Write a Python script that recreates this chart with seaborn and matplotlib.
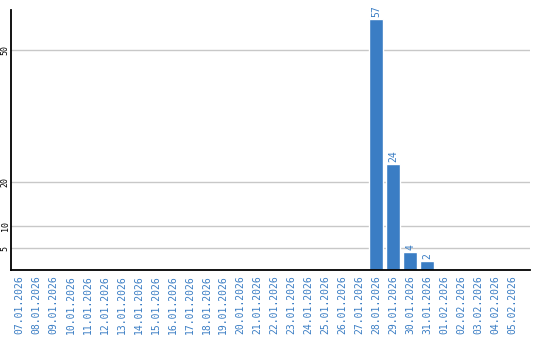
import matplotlib
matplotlib.use("Agg")
import matplotlib.pyplot as plt
import seaborn as sns
import pandas as pd

dates = ["07.01.2026", "08.01.2026", "09.01.2026", "10.01.2026", "11.01.2026",
         "12.01.2026", "13.01.2026", "14.01.2026", "15.01.2026", "16.01.2026",
         "17.01.2026", "18.01.2026", "19.01.2026", "20.01.2026", "21.01.2026",
         "22.01.2026", "23.01.2026", "24.01.2026", "25.01.2026", "26.01.2026",
         "27.01.2026", "28.01.2026", "29.01.2026", "30.01.2026", "31.01.2026",
         "01.02.2026", "02.02.2026", "03.02.2026", "04.02.2026", "05.02.2026"]
values = [0, 0, 0, 0, 0, 0, 0, 0, 0, 0,
          0, 0, 0, 0, 0, 0, 0, 0, 0, 0,
          0, 57, 24, 4, 2, 0, 0, 0, 0, 0]
yticks = [5, 10, 20, 50]

df = pd.DataFrame({"date": dates, "value": values})

sns.set_theme(style="white")
plt.rcParams['font.family'] = ['DejaVu Sans Mono', 'DejaVu Sans']

fig = plt.figure(figsize=(5.4, 3.4), dpi=100)
ax = fig.add_axes([11/540, 70/340, 519/540, 260/340])

blue = "#3a7dc4"
sns.barplot(data=df, x="date", y="value", color=blue, width=0.82,
            saturation=1, ax=ax, zorder=3)

for i, v in enumerate(values):
    if v > 0:
        ax.annotate(str(v), (i, v), xytext=(0, 1.5), textcoords="offset points",
                    rotation=90, ha="center", va="bottom",
                    color=blue, fontsize=7)

ax.set_xlim(-0.5, 30.05)
ax.set_ylim(0, 59.1)
ax.set_yticks(yticks)
ax.set_yticklabels([str(t) for t in yticks], rotation=90, va="center",
                   fontsize=6, color="black")
ax.tick_params(axis="y", length=0, pad=1)
ax.tick_params(axis="x", length=0, pad=4)
ax.set_xticks(range(len(dates)))
ax.set_xticklabels(dates, rotation=90, fontsize=7, color=blue)
ax.set_xlabel("")
ax.set_ylabel("")
ax.yaxis.grid(True, color="#c8c8c8", linewidth=1, zorder=0)
ax.xaxis.grid(False)
for s in ["top", "right"]:
    ax.spines[s].set_visible(False)
for s in ["left", "bottom"]:
    ax.spines[s].set_color("black")
    ax.spines[s].set_linewidth(1.3)
ax.spines["left"].set_zorder(5)
ax.spines["bottom"].set_zorder(5)

fig.savefig("out.png", dpi=100)
